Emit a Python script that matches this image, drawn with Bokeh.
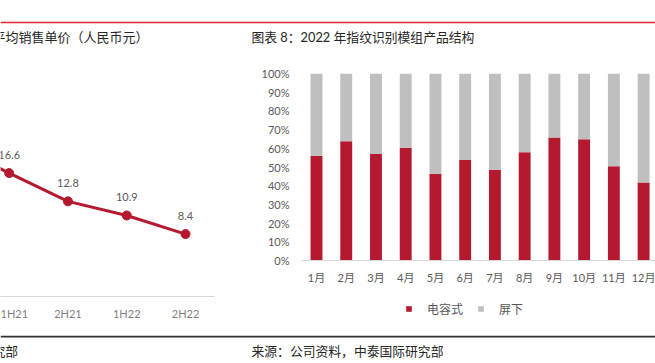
from bokeh.plotting import figure
from bokeh.models import (Range1d, FixedTicker, NumeralTickFormatter, ColumnDataSource,
                          LabelSet, Label, Span, Legend, LegendItem)
from bokeh.layouts import row, column
from bokeh.embed import file_html
from bokeh.resources import INLINE
from bokeh.core.properties import value

# ---------------- data ----------------
half_years = ["2H20", "1H21", "2H21", "1H22", "2H22"]
asp_rmb = [20.6, 16.6, 12.8, 10.9, 8.4]

months = ["1月", "2月", "3月", "4月", "5月", "6月", "7月", "8月", "9月", "10月", "11月", "12月"]
capacitive = [0.560, 0.638, 0.569, 0.603, 0.464, 0.537, 0.485, 0.579, 0.658, 0.649, 0.504, 0.417]
under_display = [0.440, 0.362, 0.431, 0.397, 0.536, 0.463, 0.515, 0.421, 0.342, 0.351, 0.496, 0.583]
pct_ticks = [0, 0.1, 0.2, 0.3, 0.4, 0.5, 0.6, 0.7, 0.8, 0.9, 1.0]
series_names = ["电容式", "屏下"]

left_title = "平均销售单价（人民币元）"
right_title = "图表 8：2022 年指纹识别模组产品结构"
source_note = "来源：公司资料，中泰国际研究部"

# ---------------- style ----------------
RED = "#b5192f"
GRAY = "#bfbfbf"
RULE_RED = "#e2262b"
RULE_DARK = "#333333"
TXT_DARK = "#262626"
CJK = "Noto Sans CJK SC"
MIX = "Lato, Noto Sans CJK SC"
W = 655
H_HEAD, H_MID, H_FOOT = 50, 275, 38
W_L, W_R = 245, 410
H_BARS, H_LEG = 242, 33


def no_align(p):
    try:
        p.frame_align = False
    except Exception:
        pass


def style_common(p):
    p.outline_line_color = None
    p.background_fill_color = "white"
    p.border_fill_color = "white"
    p.xgrid.visible = False
    p.ygrid.visible = False
    no_align(p)


def bare(width, height, x0, y0):
    """A figure whose frame is the whole canvas, in page-pixel coordinates."""
    p = figure(width=width, height=height, output_backend="svg", toolbar_location=None,
               x_range=Range1d(x0, x0 + width), y_range=Range1d(y0 + height, y0),
               x_axis_location=None, y_axis_location=None,
               min_border_left=0, min_border_right=0, min_border_top=0, min_border_bottom=0)
    style_common(p)
    return p


# ---------------- header (page y 0..50) ----------------
head = bare(W, H_HEAD, 0, 0)
head.add_layout(Span(location=22, dimension="width", line_color=RULE_RED, line_width=1.4))
head.add_layout(Label(x=-8, y=36, text=left_title, text_align="left", text_baseline="middle",
                      text_font=CJK, text_font_size="13px", text_color=TXT_DARK))
head.add_layout(Label(x=251, y=36, text=right_title, text_align="left", text_baseline="middle",
                      text_font=MIX, text_font_size="12.8px", text_color=TXT_DARK))

# ---------------- left: line chart ----------------
xl = list(range(len(half_years)))
src_l = ColumnDataSource(dict(x=xl, y=asp_rmb, lbl=[f"{v:.1f}" for v in asp_rmb]))

pl = figure(width=W_L, height=H_MID, output_backend="svg", toolbar_location=None,
            x_range=Range1d(0.852, 4.493), y_range=Range1d(0, 30),
            y_axis_location=None,
            min_border_left=0, min_border_right=31, min_border_top=23, min_border_bottom=29)
style_common(pl)
pl.line("x", "y", source=src_l, line_width=3, line_color=RED)
pl.scatter("x", "y", source=src_l, size=9, fill_color=RED, line_color=RED)
pl.add_layout(LabelSet(x="x", y="y", text="lbl", source=src_l, y_offset=18,
                       text_align="center", text_baseline="middle",
                       text_font=value(MIX), text_font_size="11px", text_color="#595959"))
pl.xaxis.ticker = FixedTicker(ticks=xl)
pl.xaxis.major_label_overrides = {i: h for i, h in zip(xl, half_years)}
pl.xaxis.axis_line_color = "#d9d9d9"
pl.xaxis.major_tick_line_color = None
pl.xaxis.minor_tick_line_color = None
pl.xaxis.major_tick_out = 0
pl.xaxis.major_tick_in = 0
pl.xaxis.major_label_standoff = 10
pl.xaxis.major_label_text_font = MIX
pl.xaxis.major_label_text_font_size = "11px"
pl.xaxis.major_label_text_color = "#7f7f7f"

# ---------------- right: 100% stacked bars ----------------
xr = list(range(len(months)))
src_r = ColumnDataSource(dict(x=xr, cap=capacitive, und=under_display))

pr = figure(width=W_R, height=H_BARS, output_backend="svg", toolbar_location=None,
            x_range=Range1d(-0.5045, 11.40), y_range=Range1d(0, 1),
            min_border_left=56, min_border_right=0, min_border_top=23, min_border_bottom=32)
style_common(pr)
pr.vbar_stack(["cap", "und"], x="x", width=0.4, color=[RED, GRAY], source=src_r,
              line_color=None)

pr.xaxis.ticker = FixedTicker(ticks=xr)
pr.xaxis.major_label_overrides = {i: m for i, m in zip(xr, months)}
pr.xaxis.axis_line_color = "#d9d9d9"
pr.xaxis.major_tick_line_color = None
pr.xaxis.minor_tick_line_color = None
pr.xaxis.major_tick_out = 0
pr.xaxis.major_tick_in = 0
pr.xaxis.major_label_standoff = 10
pr.xaxis.major_label_text_font = MIX
pr.xaxis.major_label_text_font_size = "11px"
pr.xaxis.major_label_text_color = "#595959"

pr.yaxis.ticker = FixedTicker(ticks=pct_ticks)
pr.yaxis.formatter = NumeralTickFormatter(format="0%")
pr.yaxis.axis_line_color = None
pr.yaxis.major_tick_line_color = None
pr.yaxis.minor_tick_line_color = None
pr.yaxis.major_tick_out = 0
pr.yaxis.major_tick_in = 0
pr.yaxis.major_label_standoff = 12
pr.yaxis.major_label_text_font = MIX
pr.yaxis.major_label_text_font_size = "11px"
pr.yaxis.major_label_text_color = "#595959"

# legend strip under the bar chart (page y 292..325); swatch renderers are hidden
leg = bare(W_R, H_LEG, W_L, H_BARS + H_HEAD)
sw_cap = leg.vbar(x="x", top="cap", source=src_r, width=0.4,
                  fill_color=RED, line_color=None, visible=False)
sw_und = leg.vbar(x="x", top="und", source=src_r, width=0.4,
                  fill_color=GRAY, line_color=None, visible=False)
legend = Legend(items=[LegendItem(label=series_names[0], renderers=[sw_cap]),
                       LegendItem(label=series_names[1], renderers=[sw_und])],
                location=(160, 8.5), orientation="horizontal",
                glyph_width=7, glyph_height=7, label_height=7,
                label_standoff=15, spacing=14, padding=0, margin=0,
                inactive_fill_alpha=0,
                border_line_color=None, background_fill_alpha=0,
                label_text_font=CJK, label_text_font_size="12px",
                label_text_color="#595959")
leg.add_layout(legend)

# ---------------- footer (page y 325..363) ----------------
foot = bare(W, H_FOOT, 0, H_HEAD + H_MID)
foot.add_layout(Span(location=336.2, dimension="width", line_color=RULE_DARK, line_width=1.7))
foot.add_layout(Label(x=17.5, y=350, text=source_note, text_align="right", text_baseline="middle",
                      text_font=CJK, text_font_size="12.8px", text_color=TXT_DARK))
foot.add_layout(Label(x=251, y=350, text=source_note, text_align="left", text_baseline="middle",
                      text_font=CJK, text_font_size="12.8px", text_color=TXT_DARK))

layout = column(head, row(pl, column(pr, leg)), foot)
open("out.html", "w").write(file_html(layout, INLINE))
